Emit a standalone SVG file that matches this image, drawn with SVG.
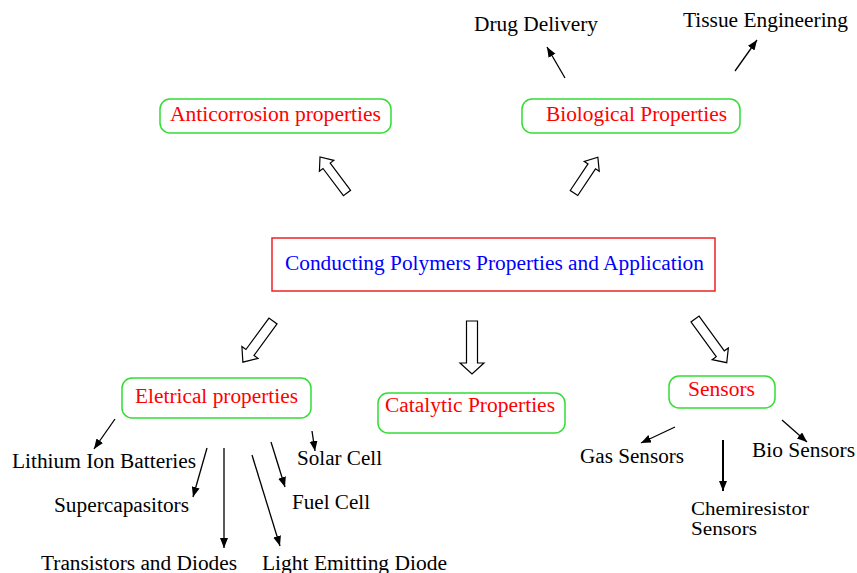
<svg xmlns="http://www.w3.org/2000/svg" width="857" height="573" viewBox="0 0 857 573">
<defs>
<style>
text{font-family:"Liberation Serif","Times New Roman",serif;font-size:20px;}
.blk{fill:#000;}
.red{fill:#ff0000;}
.blue{fill:#0000ff;}
.sm{font-size:18px;}
.gbox{fill:#fff;stroke:#33dd33;stroke-width:1.5;}
.rbox{fill:#fff;stroke:#ee2222;stroke-width:1.5;}
.hol{fill:#fff;stroke:#000;stroke-width:1.2;stroke-linejoin:miter;}
.ln{stroke:#000;stroke-width:1.3;fill:none;marker-end:url(#ah);}
.lnb{stroke:#000;stroke-width:2;fill:none;marker-end:url(#ah);}
</style>
<marker id="ah" markerUnits="userSpaceOnUse" markerWidth="12" markerHeight="10" refX="10" refY="4" orient="auto">
<path d="M0,0 L10,4 L0,8 Z" fill="#000"/>
</marker>
</defs>
<rect width="857" height="573" fill="#fff"/>

<g id="center">
<rect class="rbox" x="272" y="238" width="443" height="53"/>
<text class="blue" x="285" y="270" textLength="419" lengthAdjust="spacingAndGlyphs">Conducting Polymers Properties and Application</text>
</g>

<g id="anticorrosion">
<rect class="gbox" x="160" y="99" width="231" height="34" rx="10"/>
<text class="red" x="170" y="121" textLength="211" lengthAdjust="spacingAndGlyphs">Anticorrosion properties</text>
</g>

<g id="biological">
<rect class="gbox" x="522" y="99" width="218" height="34" rx="10"/>
<text class="red" x="546" y="121" textLength="181" lengthAdjust="spacingAndGlyphs">Biological Properties</text>
</g>

<g id="drug">
<text class="blk" x="474" y="31" textLength="124" lengthAdjust="spacingAndGlyphs">Drug Delivery</text>
</g>
<g id="tissue">
<text class="blk" x="683" y="27" textLength="165" lengthAdjust="spacingAndGlyphs">Tissue Engineering</text>
</g>

<g id="electrical">
<rect class="gbox" x="122" y="378" width="189" height="40" rx="10"/>
<text class="red" x="135" y="403" textLength="163" lengthAdjust="spacingAndGlyphs">Eletrical properties</text>
</g>

<g id="catalytic">
<rect class="gbox" x="378" y="393" width="187" height="40" rx="10"/>
<text class="red" x="385" y="412" textLength="170" lengthAdjust="spacingAndGlyphs">Catalytic Properties</text>
</g>

<g id="sensors">
<rect class="gbox" x="669" y="376" width="106" height="32" rx="10"/>
<text class="red" x="688" y="396" textLength="67" lengthAdjust="spacingAndGlyphs">Sensors</text>
</g>

<g id="lithium"><text class="blk" x="12" y="468" textLength="184" lengthAdjust="spacingAndGlyphs">Lithium Ion Batteries</text></g>
<g id="supercap"><text class="blk" x="54" y="512" textLength="135" lengthAdjust="spacingAndGlyphs">Supercapasitors</text></g>
<g id="transistors"><text class="blk" x="41" y="570" textLength="196" lengthAdjust="spacingAndGlyphs">Transistors and Diodes</text></g>
<g id="led"><text class="blk" x="262" y="570" textLength="185" lengthAdjust="spacingAndGlyphs">Light Emitting Diode</text></g>
<g id="fuel"><text class="blk" x="292" y="509" textLength="78" lengthAdjust="spacingAndGlyphs">Fuel Cell</text></g>
<g id="solar"><text class="blk" x="297" y="465" textLength="85" lengthAdjust="spacingAndGlyphs">Solar Cell</text></g>

<g id="gas"><text class="blk" x="580" y="463" textLength="104" lengthAdjust="spacingAndGlyphs">Gas Sensors</text></g>
<g id="bio"><text class="blk" x="752" y="457" textLength="103" lengthAdjust="spacingAndGlyphs">Bio Sensors</text></g>
<g id="chemi">
<text class="blk sm" x="691" y="515" textLength="118" lengthAdjust="spacingAndGlyphs">Chemiresistor</text>
<text class="blk sm" x="691" y="535" textLength="66" lengthAdjust="spacingAndGlyphs">Sensors</text>
</g>

<g id="connectors">
<polygon class="hol" transform="translate(347,193) rotate(-126.87)" points="0,-4.5 34,-4.5 34,-9 45,0 34,9 34,4.5 0,4.5"/>
<polygon class="hol" transform="translate(574,193) rotate(-56.3)" points="0,-4.5 32,-4.5 32,-9 43,0 32,9 32,4.5 0,4.5"/>
<polygon class="hol" transform="translate(273,321) rotate(126.2)" points="0,-5 39,-5 39,-10 51,0 39,10 39,5 0,5"/>
<polygon class="hol" transform="translate(472,321) rotate(90)" points="0,-5.5 42,-5.5 42,-12 53,0 42,12 42,5.5 0,5.5"/>
<polygon class="hol" transform="translate(695,319) rotate(54)" points="0,-5 43,-5 43,-10 54,0 43,10 43,5 0,5"/>

<line class="ln" x1="565" y1="78" x2="547" y2="47"/>
<line class="ln" x1="735" y1="71" x2="757" y2="40"/>

<line class="ln" x1="115" y1="419" x2="94" y2="449"/>
<line class="ln" x1="207" y1="448" x2="193" y2="497"/>
<line class="ln" x1="224" y1="448" x2="224" y2="548"/>
<line class="ln" x1="252" y1="455" x2="280" y2="546"/>
<line class="ln" x1="271" y1="442" x2="285" y2="487"/>
<line class="ln" x1="312" y1="431" x2="315" y2="451"/>

<line class="ln" x1="675" y1="427" x2="641" y2="443"/>
<line class="lnb" x1="723" y1="440" x2="723" y2="491"/>
<line class="ln" x1="782" y1="420" x2="807" y2="442"/>
</g>
</svg>
